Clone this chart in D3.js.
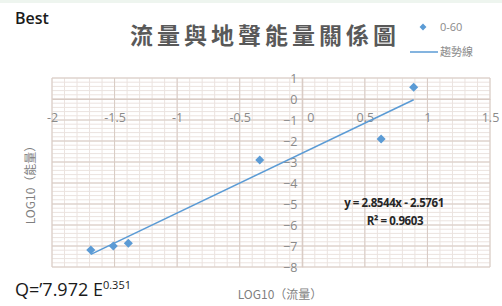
<!DOCTYPE html>
<html>
<head>
<meta charset="utf-8">
<script src="https://cdn.jsdelivr.net/npm/d3@7"></script>
<style>
  body { margin: 0; background: #fff; }
  svg { display: block; }
</style>
</head>
<body>
<div id="chart"></div>
<script>
// data
const logFlow = [-1.69, -1.51, -1.39, -0.34, 0.63, 0.89];
const logEnergy = [-7.19, -7.0, -6.87, -2.9, -1.9, 0.56];
const xTicks = [-2, -1.5, -1, -0.5, 0, 0.5, 1, 1.5];
const yTicks = [1, 0, -1, -2, -3, -4, -5, -6, -7, -8];
const slope = 2.8544;
const intercept = -2.5761;

const width = 502;
const height = 306;
const margin = { top: 78, left: 52, bottom: 39, right: 12 };
const iwidth = width - margin.left - margin.right;
const iheight = height - margin.top - margin.bottom;

const svg = d3.select("#chart").append("svg")
  .attr("width", width)
  .attr("height", height);

svg.append("rect").attr("width", width).attr("height", 3).attr("fill", "#eef5ef");

const x = d3.scaleLinear().domain([-2, 1.5]).range([0, iwidth]);
const y = d3.scaleLinear().domain([-8, 1]).range([iheight, 0]);

const g = svg.append("g")
  .attr("transform", `translate(${margin.left},${margin.top})`);

// minor grid
g.append("g").selectAll("line")
  .data(d3.range(-20, 16).map(d => d / 10))
  .enter().append("line")
  .attr("x1", d => x(d)).attr("x2", d => x(d))
  .attr("y1", 0).attr("y2", iheight)
  .attr("stroke", "#ebe3df").attr("stroke-width", 1);
g.append("g").selectAll("line")
  .data(d3.range(-40, 6).map(d => d / 5))
  .enter().append("line")
  .attr("y1", d => y(d)).attr("y2", d => y(d))
  .attr("x1", 0).attr("x2", iwidth)
  .attr("stroke", "#ebe3df").attr("stroke-width", 1);

// major grid
g.append("g").selectAll("line")
  .data(xTicks)
  .enter().append("line")
  .attr("x1", d => x(d)).attr("x2", d => x(d))
  .attr("y1", 0).attr("y2", iheight)
  .attr("stroke", "#d8cbc4").attr("stroke-width", 1);
g.append("g").selectAll("line")
  .data(yTicks)
  .enter().append("line")
  .attr("y1", d => y(d)).attr("y2", d => y(d))
  .attr("x1", 0).attr("x2", iwidth)
  .attr("stroke", "#d8cbc4").attr("stroke-width", 1);

// axes crossing at 0
const xAxis = g.append("g")
  .attr("transform", `translate(0,${y(0)})`)
  .call(d3.axisBottom(x).tickValues(xTicks).tickSize(0).tickPadding(14)
    .tickFormat(d => d));
const yAxis = g.append("g")
  .attr("transform", `translate(${x(0)},0)`)
  .call(d3.axisLeft(y).tickValues(yTicks).tickSize(0).tickPadding(5));
[xAxis, yAxis].forEach(a => {
  a.select(".domain").attr("stroke", "#d8cbc4");
  a.selectAll("text")
    .attr("fill", "#8a8a8a")
    .style("font-family", "'Open Sans', sans-serif")
    .style("font-size", "12.5px");
});
xAxis.selectAll("text").filter(d => d === 0).attr("dx", 8);

// trendline
const xMin = d3.min(logFlow), xMax = d3.max(logFlow);
g.append("line")
  .attr("x1", x(xMin)).attr("y1", y(slope * xMin + intercept))
  .attr("x2", x(xMax)).attr("y2", y(slope * xMax + intercept))
  .attr("stroke", "#5b9bd5").attr("stroke-width", 1.5);

// points
const diamond = d3.symbol().type(d3.symbolDiamond2).size(52);
g.selectAll(".pt")
  .data(logFlow.map((d, i) => [d, logEnergy[i]]))
  .enter().append("path")
  .attr("class", "pt")
  .attr("d", diamond)
  .attr("transform", d => `translate(${x(d[0])},${y(d[1])})`)
  .attr("fill", "#5b9bd5");

// equation
const eq = g.append("text")
  .attr("text-anchor", "middle")
  .attr("fill", "#262626")
  .style("font-family", "'Open Sans', sans-serif")
  .style("font-size", "11.5px")
  .style("font-weight", "bold")
  .style("letter-spacing", "-0.4px");
eq.append("tspan").attr("x", 394 - margin.left).attr("y", 207 - margin.top)
  .text(`y = ${slope}x - ${Math.abs(intercept)}`);
eq.append("tspan").attr("x", 395 - margin.left).attr("y", 225 - margin.top)
  .text("R² = 0.9603");

// title
svg.append("text")
  .attr("x", 265).attr("y", 44)
  .attr("text-anchor", "middle")
  .attr("fill", "#595959")
  .style("font-family", "'Noto Sans CJK TC', sans-serif")
  .style("font-size", "23px")
  .style("font-weight", "bold")
  .style("letter-spacing", "4px")
  .text("流量與地聲能量關係圖");

svg.append("text")
  .attr("x", 15).attr("y", 24)
  .attr("fill", "#1a1a1a")
  .style("font-family", "'Open Sans', sans-serif")
  .style("font-size", "16px")
  .style("font-weight", "600")
  .text("Best");

// legend
svg.append("path")
  .attr("d", d3.symbol().type(d3.symbolDiamond2).size(30))
  .attr("transform", "translate(423,27)")
  .attr("fill", "#5b9bd5");
svg.append("text")
  .attr("x", 440).attr("y", 31)
  .attr("fill", "#8a8a8a")
  .style("font-family", "'Open Sans', sans-serif")
  .style("font-size", "11px")
  .text("0-60");
svg.append("line")
  .attr("x1", 410).attr("x2", 438).attr("y1", 52).attr("y2", 52)
  .attr("stroke", "#5b9bd5").attr("stroke-width", 1.5);
svg.append("text")
  .attr("x", 440).attr("y", 56)
  .attr("fill", "#8a8a8a")
  .style("font-family", "'Noto Sans CJK TC', sans-serif")
  .style("font-size", "11px")
  .text("趨勢線");

// axis titles
svg.append("text")
  .attr("x", 280).attr("y", 299)
  .attr("text-anchor", "middle")
  .attr("fill", "#7f7f7f")
  .style("font-family", "'Noto Sans CJK TC', sans-serif")
  .style("font-size", "12px")
  .text("LOG10（流量）");
svg.append("text")
  .attr("transform", "translate(35,182) rotate(-90)")
  .attr("text-anchor", "middle")
  .attr("fill", "#7f7f7f")
  .style("font-family", "'Noto Sans CJK TC', sans-serif")
  .style("font-size", "12px")
  .text("LOG10（能量）");

// formula bottom-left
const q = svg.append("text")
  .attr("x", 15).attr("y", 296)
  .attr("fill", "#1a1a1a")
  .style("font-family", "'Open Sans', sans-serif")
  .style("font-size", "18px");
q.append("tspan").text("Q=’7.972 E");
q.append("tspan").attr("dy", -7).style("font-size", "11px").text("0.351");
</script>
</body>
</html>
